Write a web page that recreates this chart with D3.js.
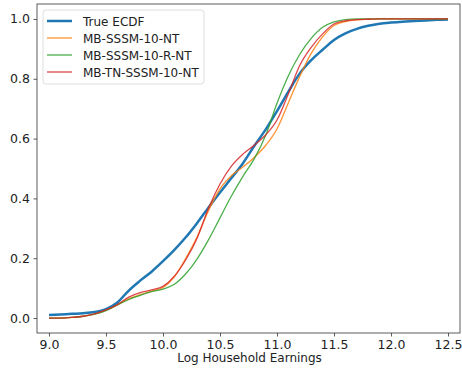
<!DOCTYPE html>
<html>
<head>
<meta charset="utf-8">
<script src="https://cdn.jsdelivr.net/npm/d3@7"></script>
<style>
  body { margin: 0; background: #fff; }
  svg text { font-family: "DejaVu Sans", sans-serif; fill: #222; }
</style>
</head>
<body>
<svg id="chart" width="462" height="370"></svg>
<script>
// log household earnings grid
const earnings = [9.0, 9.1, 9.2, 9.3, 9.4, 9.5, 9.6, 9.7, 9.8, 9.9,
    10.0, 10.1, 10.2, 10.3, 10.4, 10.5, 10.6, 10.7, 10.8, 10.9,
    11.0, 11.1, 11.2, 11.3, 11.4, 11.5, 11.6, 11.7, 11.8, 11.9,
    12.0, 12.1, 12.2, 12.3, 12.4, 12.5];

const trueEcdf = [0.010, 0.012, 0.014, 0.016, 0.020, 0.030, 0.052, 0.092, 0.125, 0.155,
    0.190, 0.228, 0.270, 0.318, 0.370, 0.420, 0.468, 0.517, 0.575, 0.630,
    0.692, 0.757, 0.818, 0.862, 0.897, 0.930, 0.952, 0.967, 0.977, 0.984,
    0.988, 0.991, 0.993, 0.995, 0.997, 0.998];

const sssm = [0.0, 0.0, 0.002, 0.006, 0.013, 0.026, 0.044, 0.064, 0.078, 0.090,
    0.102, 0.138, 0.200, 0.272, 0.360, 0.432, 0.476, 0.505, 0.537, 0.577,
    0.632, 0.720, 0.808, 0.885, 0.940, 0.978, 0.991, 0.997, 0.999, 1.0,
    1.0, 1.0, 1.0, 1.0, 1.0, 1.0];

const sssmR = [0.0, 0.0, 0.002, 0.006, 0.013, 0.025, 0.044, 0.062, 0.076, 0.088,
    0.097, 0.113, 0.148, 0.198, 0.262, 0.335, 0.408, 0.473, 0.532, 0.610,
    0.718, 0.810, 0.882, 0.935, 0.972, 0.990, 0.998, 1.0, 1.0, 1.0,
    1.0, 1.0, 1.0, 1.0, 1.0, 1.0];

const tnSssm = [0.0, 0.0, 0.002, 0.006, 0.014, 0.027, 0.045, 0.070, 0.085, 0.094,
    0.106, 0.140, 0.195, 0.268, 0.368, 0.448, 0.508, 0.548, 0.578, 0.612,
    0.662, 0.750, 0.845, 0.905, 0.950, 0.983, 0.994, 0.998, 0.999, 1.0,
    1.0, 1.0, 1.0, 1.0, 1.0, 1.0];

const seriesNames = ["True ECDF", "MB-SSSM-10-NT", "MB-SSSM-10-R-NT", "MB-TN-SSSM-10-NT"];
const seriesValues = [trueEcdf, sssm, sssmR, tnSssm];
const seriesColors = ["#1f77b4", "#ff7f0e", "#2ca02c", "#d62728"];
const seriesWidths = [2.5, 1.3, 1.3, 1.3];

const xTicks = [9.0, 9.5, 10.0, 10.5, 11.0, 11.5, 12.0, 12.5];
const yTicks = [0.0, 0.2, 0.4, 0.6, 0.8, 1.0];

const plot = {left: 37, right: 460, top: 4, bottom: 333};

const svg = d3.select("#chart");

const x = d3.scaleLinear().domain([8.895, 12.605]).range([plot.left, plot.right]);
const y = d3.scaleLinear().domain([-0.05, 1.05]).range([plot.bottom, plot.top]);

// lines
const line = d3.line()
    .x(d => x(d[0]))
    .y(d => y(d[1]))
    .curve(d3.curveMonotoneX);

seriesValues.forEach((vals, i) => {
    svg.append("path")
        .datum(earnings.map((e, j) => [e, vals[j]]))
        .attr("fill", "none")
        .attr("stroke", seriesColors[i])
        .attr("stroke-width", seriesWidths[i])
        .attr("stroke-opacity", i === 0 ? 1 : 0.85)
        .attr("d", line);
});

// axes
const xAxis = svg.append("g")
    .attr("transform", `translate(0,${plot.bottom})`)
    .call(d3.axisBottom(x).tickValues(xTicks).tickFormat(d3.format(".1f")).tickSize(3.5).tickPadding(3.5));
const yAxis = svg.append("g")
    .attr("transform", `translate(${plot.left},0)`)
    .call(d3.axisLeft(y).tickValues(yTicks).tickFormat(d3.format(".1f")).tickSize(3.5).tickPadding(3.5));

[xAxis, yAxis].forEach(g => {
    g.select(".domain").remove();
    g.selectAll("line").attr("stroke", "#333").attr("stroke-width", 0.8);
    g.selectAll("text").attr("font-size", 12.5).attr("fill", "#222");
});

// frame
svg.append("rect")
    .attr("x", plot.left).attr("y", plot.top)
    .attr("width", plot.right - plot.left).attr("height", plot.bottom - plot.top)
    .attr("fill", "none").attr("stroke", "#333").attr("stroke-width", 0.8);

svg.append("text")
    .attr("x", (plot.left + plot.right) / 2 + 1)
    .attr("y", 362)
    .attr("text-anchor", "middle")
    .attr("font-size", 12)
    .text("Log Household Earnings");

// legend
const legend = svg.append("g").attr("transform", "translate(43,10)");
legend.append("rect")
    .attr("width", 161).attr("height", 74).attr("rx", 3)
    .attr("fill", "#fff").attr("fill-opacity", 0.8)
    .attr("stroke", "#d6d6d6").attr("stroke-width", 0.8);

seriesNames.forEach((name, i) => {
    const row = legend.append("g").attr("transform", `translate(0,${11 + i * 17})`);
    row.append("line")
        .attr("x1", 4).attr("x2", 29)
        .attr("stroke", seriesColors[i])
        .attr("stroke-width", seriesWidths[i])
        .attr("stroke-opacity", i === 0 ? 1 : 0.85);
    row.append("text")
        .attr("x", 40).attr("y", 4.5)
        .attr("font-size", 12)
        .text(name);
});
</script>
</body>
</html>
